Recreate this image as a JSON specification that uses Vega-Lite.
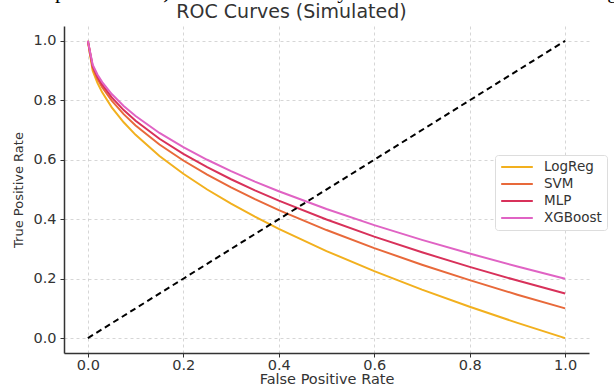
{
  "$schema": "https://vega.github.io/schema/vega-lite/v6.json",
  "width": 525,
  "height": 327,
  "autosize": {"type": "none"},
  "padding": {"left": 64, "top": 26, "right": 25, "bottom": 36},
  "background": "white",
  "title": {
    "text": "the actual positive rate) would be necessary to restrict the risk of false-neg",
    "subtitle": "ROC Curves (Simulated)",
    "font": "Liberation Serif",
    "fontSize": 22,
    "fontWeight": "normal",
    "color": "black",
    "subtitleFont": "DejaVu Sans",
    "subtitleFontSize": 19,
    "subtitleColor": "#333333",
    "subtitlePadding": 0,
    "anchor": "middle",
    "frame": "group",
    "dx": -35,
    "offset": 3
  },
  "datasets": {
    "curves": [
      {"model": "LogReg", "fpr": 0, "tpr": 1},
      {"model": "LogReg", "fpr": 0.0101, "tpr": 0.8995},
      {"model": "LogReg", "fpr": 0.02, "tpr": 0.8586},
      {"model": "LogReg", "fpr": 0.03, "tpr": 0.8268},
      {"model": "LogReg", "fpr": 0.05, "tpr": 0.7764},
      {"model": "LogReg", "fpr": 0.075, "tpr": 0.7261},
      {"model": "LogReg", "fpr": 0.1, "tpr": 0.6838},
      {"model": "LogReg", "fpr": 0.15, "tpr": 0.6127},
      {"model": "LogReg", "fpr": 0.2, "tpr": 0.5528},
      {"model": "LogReg", "fpr": 0.25, "tpr": 0.5},
      {"model": "LogReg", "fpr": 0.3, "tpr": 0.4523},
      {"model": "LogReg", "fpr": 0.35, "tpr": 0.4084},
      {"model": "LogReg", "fpr": 0.4, "tpr": 0.3675},
      {"model": "LogReg", "fpr": 0.5, "tpr": 0.2929},
      {"model": "LogReg", "fpr": 0.6, "tpr": 0.2254},
      {"model": "LogReg", "fpr": 0.7, "tpr": 0.1633},
      {"model": "LogReg", "fpr": 0.8, "tpr": 0.1056},
      {"model": "LogReg", "fpr": 0.9, "tpr": 0.0513},
      {"model": "LogReg", "fpr": 1.0, "tpr": 0},
      {"model": "SVM", "fpr": 0, "tpr": 1},
      {"model": "SVM", "fpr": 0.0101, "tpr": 0.9096},
      {"model": "SVM", "fpr": 0.02, "tpr": 0.8727},
      {"model": "SVM", "fpr": 0.03, "tpr": 0.8441},
      {"model": "SVM", "fpr": 0.05, "tpr": 0.7988},
      {"model": "SVM", "fpr": 0.075, "tpr": 0.7535},
      {"model": "SVM", "fpr": 0.1, "tpr": 0.7154},
      {"model": "SVM", "fpr": 0.15, "tpr": 0.6514},
      {"model": "SVM", "fpr": 0.2, "tpr": 0.5975},
      {"model": "SVM", "fpr": 0.25, "tpr": 0.55},
      {"model": "SVM", "fpr": 0.3, "tpr": 0.5071},
      {"model": "SVM", "fpr": 0.35, "tpr": 0.4676},
      {"model": "SVM", "fpr": 0.4, "tpr": 0.4308},
      {"model": "SVM", "fpr": 0.5, "tpr": 0.3636},
      {"model": "SVM", "fpr": 0.6, "tpr": 0.3029},
      {"model": "SVM", "fpr": 0.7, "tpr": 0.247},
      {"model": "SVM", "fpr": 0.8, "tpr": 0.195},
      {"model": "SVM", "fpr": 0.9, "tpr": 0.1462},
      {"model": "SVM", "fpr": 1.0, "tpr": 0.1},
      {"model": "MLP", "fpr": 0, "tpr": 1},
      {"model": "MLP", "fpr": 0.0101, "tpr": 0.9146},
      {"model": "MLP", "fpr": 0.02, "tpr": 0.8798},
      {"model": "MLP", "fpr": 0.03, "tpr": 0.8528},
      {"model": "MLP", "fpr": 0.05, "tpr": 0.8099},
      {"model": "MLP", "fpr": 0.075, "tpr": 0.7672},
      {"model": "MLP", "fpr": 0.1, "tpr": 0.7312},
      {"model": "MLP", "fpr": 0.15, "tpr": 0.6708},
      {"model": "MLP", "fpr": 0.2, "tpr": 0.6199},
      {"model": "MLP", "fpr": 0.25, "tpr": 0.575},
      {"model": "MLP", "fpr": 0.3, "tpr": 0.5345},
      {"model": "MLP", "fpr": 0.35, "tpr": 0.4971},
      {"model": "MLP", "fpr": 0.4, "tpr": 0.4624},
      {"model": "MLP", "fpr": 0.5, "tpr": 0.399},
      {"model": "MLP", "fpr": 0.6, "tpr": 0.3416},
      {"model": "MLP", "fpr": 0.7, "tpr": 0.2888},
      {"model": "MLP", "fpr": 0.8, "tpr": 0.2398},
      {"model": "MLP", "fpr": 0.9, "tpr": 0.1936},
      {"model": "MLP", "fpr": 1.0, "tpr": 0.15},
      {"model": "XGBoost", "fpr": 0, "tpr": 1},
      {"model": "XGBoost", "fpr": 0.0101, "tpr": 0.9196},
      {"model": "XGBoost", "fpr": 0.02, "tpr": 0.8869},
      {"model": "XGBoost", "fpr": 0.03, "tpr": 0.8614},
      {"model": "XGBoost", "fpr": 0.05, "tpr": 0.8211},
      {"model": "XGBoost", "fpr": 0.075, "tpr": 0.7809},
      {"model": "XGBoost", "fpr": 0.1, "tpr": 0.747},
      {"model": "XGBoost", "fpr": 0.15, "tpr": 0.6902},
      {"model": "XGBoost", "fpr": 0.2, "tpr": 0.6422},
      {"model": "XGBoost", "fpr": 0.25, "tpr": 0.6},
      {"model": "XGBoost", "fpr": 0.3, "tpr": 0.5618},
      {"model": "XGBoost", "fpr": 0.35, "tpr": 0.5267},
      {"model": "XGBoost", "fpr": 0.4, "tpr": 0.494},
      {"model": "XGBoost", "fpr": 0.5, "tpr": 0.4343},
      {"model": "XGBoost", "fpr": 0.6, "tpr": 0.3803},
      {"model": "XGBoost", "fpr": 0.7, "tpr": 0.3306},
      {"model": "XGBoost", "fpr": 0.8, "tpr": 0.2845},
      {"model": "XGBoost", "fpr": 0.9, "tpr": 0.241},
      {"model": "XGBoost", "fpr": 1.0, "tpr": 0.2}
    ],
    "diagonal": [
      {"fpr": 0, "tpr": 0},
      {"fpr": 1, "tpr": 1}
    ]
  },
  "config": {
    "view": {"stroke": null},
    "axis": {
      "grid": true,
      "gridColor": "#cccccc",
      "gridDash": [3, 3],
      "gridWidth": 0.8,
      "domainColor": "#333333",
      "domainWidth": 1.5,
      "tickColor": "#333333",
      "tickSize": 4,
      "tickWidth": 1,
      "labelFont": "DejaVu Sans",
      "labelFontSize": 14.5,
      "labelColor": "#333333",
      "titleFont": "DejaVu Sans",
      "titleFontWeight": "normal",
      "titleColor": "#333333"
    }
  },
  "layer": [
    {
      "data": {"name": "curves"},
      "mark": {"type": "line", "strokeWidth": 2, "clip": true},
      "encoding": {
        "x": {
          "field": "fpr",
          "type": "quantitative",
          "scale": {"domain": [-0.05, 1.05], "nice": false, "zero": false},
          "axis": {"values": [0, 0.2, 0.4, 0.6, 0.8, 1.0], "format": ".1f", "title": "False Positive Rate", "titleFontSize": 14.5, "titlePadding": 1, "labelPadding": 1}
        },
        "y": {
          "field": "tpr",
          "type": "quantitative",
          "scale": {"domain": [-0.05, 1.05], "nice": false, "zero": false},
          "axis": {"values": [0, 0.2, 0.4, 0.6, 0.8, 1.0], "format": ".1f", "title": "True Positive Rate", "titleFontSize": 13, "titlePadding": 7, "labelPadding": 4}
        },
        "color": {
          "field": "model",
          "type": "nominal",
          "sort": ["LogReg", "SVM", "MLP", "XGBoost"],
          "scale": {"domain": ["LogReg", "SVM", "MLP", "XGBoost"], "range": ["#f2b01e", "#e8693a", "#d8315a", "#e063c4"]},
          "legend": {
            "title": null,
            "orient": "none",
            "legendX": 431,
            "legendY": 129,
            "symbolType": "stroke",
            "symbolSize": 1000,
            "symbolStrokeWidth": 2,
            "clipHeight": 14,
            "labelFont": "DejaVu Sans",
            "labelFontSize": 13.5,
            "labelColor": "#333333",
            "labelOffset": 10,
            "rowPadding": 3,
            "padding": 5,
            "fillColor": "white",
            "strokeColor": "#dddddd",
            "cornerRadius": 3
          }
        },
        "order": {"field": "fpr", "type": "quantitative"}
      }
    },
    {
      "data": {"name": "diagonal"},
      "mark": {"type": "line", "color": "black", "strokeWidth": 2, "strokeDash": [6, 4]},
      "encoding": {
        "x": {"field": "fpr", "type": "quantitative"},
        "y": {"field": "tpr", "type": "quantitative"}
      }
    }
  ]
}
